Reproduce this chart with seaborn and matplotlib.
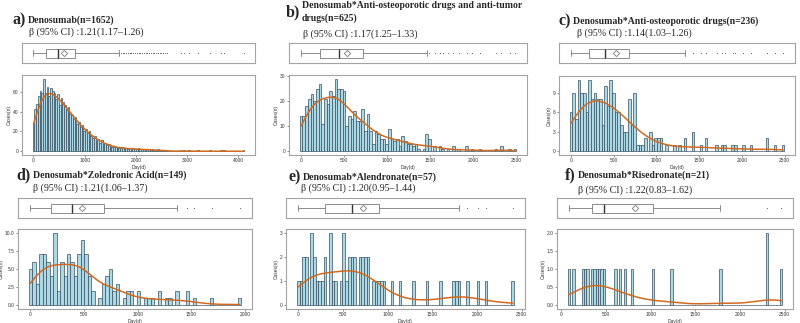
import numpy as np
import matplotlib
matplotlib.use("Agg")
import matplotlib.pyplot as plt
import seaborn as sns

# ---------------- data (histogram counts per bin) ----------------
A_COUNTS = [28, 43, 48, 56, 61, 59, 73, 59, 65, 56, 64, 61, 59, 53, 58, 47, 54, 50, 47, 42,
            45, 38, 37, 32, 34, 27, 29, 24, 26, 20,
            22, 18, 20, 15, 13, 15, 10, 12, 8, 11, 7, 8, 6, 7, 5, 4, 4, 4,
            4, 3, 3, 4, 3, 3, 2, 3, 2, 3, 2, 2, 3, 2, 2, 2, 1, 2, 2, 1, 2, 1, 1, 2, 1, 1, 1, 1, 1,
            0, 0, 0, 0, 0, 0, 0, 1, 0, 1, 0, 0, 1, 0, 0, 0, 0, 1, 0, 0, 0, 0, 0, 0, 1, 0, 0, 0,
            0, 0, 1, 0, 1, 0, 0, 0, 0, 0, 0, 0, 0, 0, 0, 1]
A_START, A_BINWIDTH = 0, 4100 / 120

B_COUNTS = [14, 14, 18, 21, 23, 20, 25, 27, 11, 21,
            19, 24, 22, 29, 25, 25, 24, 10, 14, 13,
            16, 12, 12, 17, 8, 15, 8, 3, 8, 7,
            5, 5, 3, 9, 5, 4, 5, 2, 6, 4,
            3, 3, 2, 3, 1, 0, 1, 7, 5, 0,
            2, 0, 2, 1, 0, 1, 0, 2, 0, 1,
            0, 0, 2, 0, 1, 0, 0, 1, 0, 0,
            0, 0, 0, 1, 0, 2, 0, 0, 1, 0, 1]
B_START, B_BINWIDTH = 0, 31

C_COUNTS = [6, 9, 5, 11, 9, 9, 6, 11, 8, 9,
            8, 8, 4, 10, 7, 11, 9, 6, 6, 4,
            3, 3, 8, 4, 9, 1, 1, 1, 2, 0,
            3, 1, 2, 2, 2, 0, 1, 0, 0, 1,
            0, 1, 0, 2, 0, 0, 3, 0, 0, 1,
            0, 2, 0, 0, 0, 1, 0, 1, 1, 0,
            0, 1, 1, 0, 0, 1, 0, 0, 1, 0,
            0, 0, 0, 0, 2, 0, 0, 1, 0, 0, 1]
C_START, C_BINWIDTH = 0, 31

D_COUNTS = [5, 6, 3, 7, 7, 6, 4, 10, 2, 6,
            4, 7, 6, 4, 7, 9, 7, 4, 2, 0,
            1, 3, 4, 5, 2, 3, 0, 1, 2, 2,
            0, 2, 0, 1, 1, 1, 0, 2, 0, 1,
            1, 0, 2, 0, 0, 2, 0, 1, 0, 0,
            0, 0, 1, 0, 0, 0, 0, 0, 0, 0, 1]
D_START, D_BINWIDTH = 0, 32.5

E_COUNTS = [1, 1, 2, 2, 0, 3, 2, 1, 1, 1,
            2, 0, 3, 1, 1, 0, 1, 3, 1, 2,
            2, 2, 0, 2, 2, 2, 2, 0, 1, 1,
            1, 1, 1, 0, 0, 1, 0, 0, 1, 0,
            0, 0, 0, 1, 0, 0, 0, 0, 1, 0,
            0, 0, 0, 1, 0, 0, 0, 0, 1, 1,
            1, 0, 0, 1, 0, 0, 0, 1, 0, 0,
            1, 0, 0, 0, 0, 0, 0, 0, 0, 0, 1]
E_START, E_BINWIDTH = 0, 30

F_COUNTS = [1, 0, 1, 0, 0, 0, 1, 1, 1, 0,
            1, 1, 1, 1, 1, 1, 0, 0, 0, 0,
            1, 0, 1, 0, 1, 0, 0, 1, 0, 0,
            0, 0, 0, 0, 0, 0, 1, 0, 0, 0,
            0, 0, 0, 0, 1, 0, 0, 0, 0, 0,
            0, 0, 0, 0, 0, 0, 0, 0, 0, 0,
            0, 0, 0, 0, 0, 1, 0, 0, 0, 0,
            0, 0, 0, 0, 0, 0, 0, 0, 0, 0,
            0, 0, 0, 0, 0, 2, 0, 0, 0, 0,
            0, 1]
F_START, F_BINWIDTH = 85, 26.1

TAGS = ["a)", "b)", "c)", "d)", "e)", "f)"]
TITLES = ["Denosumab(n=1652)",
          "Denosumab*Anti-osteoporotic drugs and anti-tumor\ndrugs(n=625)",
          "Denosumab*Anti-osteoporotic drugs(n=236)",
          "Denosumab*Zoledronic Acid(n=149)",
          "Denosumab*Alendronate(n=57)",
          "Denosumab*Risedronate(n=21)"]
BETAS = ["β (95% CI) :1.21(1.17–1.26)",
         "β (95% CI) :1.17(1.25–1.33)",
         "β (95% CI) :1.14(1.03–1.26)",
         "β (95% CI) :1.21(1.06–1.37)",
         "β (95% CI) :1.20(0.95–1.44)",
         "β (95% CI) :1.22(0.83–1.62)"]
X_TICKS = [[0, 1000, 2000, 3000, 4000],
           [0, 500, 1000, 1500, 2000, 2500],
           [0, 500, 1000, 1500, 2000, 2500],
           [0, 500, 1000, 1500, 2000],
           [0, 500, 1000, 1500, 2000, 2500],
           [0, 500, 1000, 1500, 2000, 2500]]
Y_TICKS = [[0, 20, 40, 60], [0, 10, 20, 30], [0, 3, 6, 9],
           [0, 2.5, 5.0, 7.5, 10.0], [0, 1, 2, 3], [0, 0.5, 1.0, 1.5, 2.0]]
Y_FMT = ["%d", "%d", "%d", "%.1f", "%d", "%.1f"]
X_LABEL = "Day(d)"
Y_LABEL = "Cases(n)"

PANELS = [(A_COUNTS, A_START, A_BINWIDTH), (B_COUNTS, B_START, B_BINWIDTH),
          (C_COUNTS, C_START, C_BINWIDTH), (D_COUNTS, D_START, D_BINWIDTH),
          (E_COUNTS, E_START, E_BINWIDTH), (F_COUNTS, F_START, F_BINWIDTH)]

# smoothing of the density curve, relative to R's default bandwidth (bw.nrd0)
KDE_BW_ADJUST = [1.6, 1.3, 1.5, 1.0, 1.0, 0.8]

# ---------------- layout (pixels) ----------------
W, H = 800, 323
HIST_PX = [(22, 75, 255, 155), (289, 75, 527, 155), (559, 76, 795, 155),
           (18, 229, 252, 309), (286, 229, 525, 309), (557, 229, 793, 309)]
BOX_PX = [(22, 43, 255, 63), (289, 43, 527, 63), (559, 43, 795, 63),
          (18, 198, 252, 218), (286, 198, 525, 218), (557, 198, 793, 218)]
TITLE_POS = [(28, 20), (302, 12), (573, 21), (33, 175), (303, 177), (578, 175)]
BETA_POS = [(29, 32), (303, 34), (577, 33), (33, 188), (301, 188), (578, 190)]
BOX_WIDTH = 0.45

BAR_FILL = "#ADD8E6"
BAR_EDGE = "#37515f"
KDE_COLOR = "#D2691E"
FRAME = "#a3a3a3"
BOX_LINE = "#7a7a7a"

sns.set_theme(style="white")
plt.rcParams["font.family"] = ["Liberation Sans", "DejaVu Sans"]

fig = plt.figure(figsize=(W / 100, H / 100), dpi=100)


def rect(x0, y0, x1, y1):
    return [x0 / W, 1 - y1 / H, (x1 - x0) / W, (y1 - y0) / H]


def style_frame(ax):
    for s in ax.spines.values():
        s.set_visible(True)
        s.set_color(FRAME)
        s.set_linewidth(0.8)


def nrd0_factor(values):
    """R's default bandwidth (bw.nrd0) expressed as a factor of the std."""
    sd = values.std(ddof=1)
    q75, q25 = np.percentile(values, [75, 25])
    h = 0.9 * min(sd, (q75 - q25) / 1.34) * len(values) ** (-0.2)
    return h / sd


for i, (counts, start, bw) in enumerate(PANELS):
    counts = np.asarray(counts)
    centers = start + bw * np.arange(len(counts))
    lo = start - bw / 2
    hi = start + bw * (len(counts) - 0.5)
    values = np.repeat(centers, counts)

    axh = fig.add_axes(rect(*HIST_PX[i]))
    sns.histplot(x=centers, weights=counts, binwidth=bw, binrange=(lo, hi + 1e-6),
                 kde=True, ax=axh,
                 color=BAR_FILL, edgecolor=BAR_EDGE, linewidth=0.5, alpha=1,
                 kde_kws=dict(cut=0, bw_method=nrd0_factor(values) * KDE_BW_ADJUST[i]),
                 line_kws=dict(linewidth=1.1))
    axh.lines[-1].set_color(KDE_COLOR)
    pad = 0.05 * (hi - lo)
    axh.set_xlim(lo - pad, hi + pad)
    ymax = counts.max()
    axh.set_ylim(-0.05 * ymax, 1.05 * ymax)
    axh.set_xticks(X_TICKS[i])
    axh.set_xticklabels([str(t) for t in X_TICKS[i]])
    axh.set_yticks(Y_TICKS[i])
    axh.set_yticklabels([Y_FMT[i] % t for t in Y_TICKS[i]])
    axh.tick_params(bottom=True, left=True, labelsize=3.5, length=1.5, width=0.4,
                    pad=1, colors="#333333")
    axh.set_xlabel(X_LABEL, fontsize=3.5, labelpad=1, color="#333333")
    axh.set_ylabel(Y_LABEL, fontsize=3.5, labelpad=1, color="#333333")
    style_frame(axh)

    axb = fig.add_axes(rect(*BOX_PX[i]))
    sns.boxplot(x=values, ax=axb, width=BOX_WIDTH, color="white", linecolor=BOX_LINE,
                linewidth=0.6, fliersize=0.7, showmeans=True,
                meanprops=dict(marker="D", markerfacecolor="white",
                               markeredgecolor=BOX_LINE, markersize=3.2,
                               markeredgewidth=0.6),
                medianprops=dict(color="#333333", linewidth=1.0),
                flierprops=dict(marker="o", markerfacecolor="#222222",
                                markeredgewidth=0))
    # lengthen the whisker caps (vertical segments shorter than the box)
    for ln in axb.lines:
        xd = np.asarray(ln.get_xdata(), dtype=float)
        yd = np.asarray(ln.get_ydata(), dtype=float)
        if len(xd) == 2 and xd[0] == xd[1] and abs(yd[1] - yd[0]) < 0.9 * BOX_WIDTH:
            ln.set_ydata([-0.38 * BOX_WIDTH, 0.38 * BOX_WIDTH])
    axb.set_xlim(axh.get_xlim())
    axb.set_ylim(0.5, -0.5)
    axb.set_xticks([])
    axb.set_yticks([])
    axb.set_xlabel("")
    axb.set_ylabel("")
    style_frame(axb)

    tx, ty = TITLE_POS[i]
    fig.text((tx - 2) / W, 1 - ty / H, TAGS[i], ha="right", va="center",
             fontsize=11.5, fontweight="bold", family=["Liberation Serif", "DejaVu Serif"])
    fig.text(tx / W, 1 - ty / H, TITLES[i], ha="left", va="center", linespacing=1.45,
             fontsize=7, fontweight="bold", family=["Liberation Serif", "DejaVu Serif"])
    bx, by = BETA_POS[i]
    fig.text(bx / W, 1 - by / H, BETAS[i], ha="left", va="center",
             fontsize=7.2, family=["Liberation Serif", "DejaVu Serif"])

fig.savefig("out.png", dpi=100)
